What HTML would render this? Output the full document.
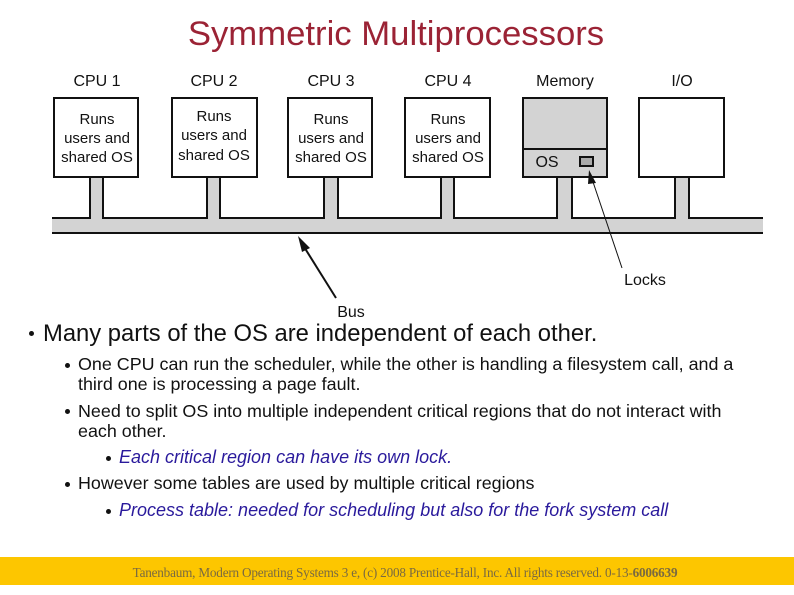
<!DOCTYPE html>
<html><head><style>
body{margin:0;width:794px;height:595px;background:#fff;position:relative;overflow:hidden;font-family:"Liberation Sans",sans-serif}
.t{position:absolute;white-space:nowrap}
.s{position:absolute;white-space:nowrap;font-size:17.9px;color:#111;left:78px}
.i{position:absolute;white-space:nowrap;font-size:18px;color:#2a1a9c;font-style:italic;left:119px}
.d{position:absolute;width:5px;height:5px;border-radius:50%;background:#111}
</style></head><body>
<div class="t" style="left:0;width:792px;text-align:center;top:15px;font-size:34.7px;color:#9b2335">Symmetric Multiprocessors</div>
<svg style="position:absolute;left:0;top:0" width="794" height="340" font-family="Liberation Sans, sans-serif">
<path d="M52 218 H90 V177 H103 V218 H207 V177 H220 V218 H324 V177 H338 V218 H441 V177 H454 V218 H557 V177 H572 V218 H675 V177 H689 V218 H763" fill="#d3d3d3" stroke="#111" stroke-width="2"/>
<rect x="52" y="219" width="711" height="13" fill="#d3d3d3"/>
<rect x="91" y="176" width="11" height="44" fill="#d3d3d3"/>
<rect x="208" y="176" width="11" height="44" fill="#d3d3d3"/>
<rect x="325" y="176" width="12" height="44" fill="#d3d3d3"/>
<rect x="442" y="176" width="11" height="44" fill="#d3d3d3"/>
<rect x="558" y="176" width="13" height="44" fill="#d3d3d3"/>
<rect x="676" y="176" width="12" height="44" fill="#d3d3d3"/>
<line x1="52" y1="233" x2="763" y2="233" stroke="#111" stroke-width="2"/>
<g stroke="#111" stroke-width="2" fill="#fff">
<rect x="54" y="98" width="84" height="79"/>
<rect x="172" y="98" width="85" height="79"/>
<rect x="288" y="98" width="84" height="79"/>
<rect x="405" y="98" width="85" height="79"/>
<rect x="523" y="98" width="84" height="79" fill="#d3d3d3"/>
<line x1="523" y1="149" x2="607" y2="149"/>
<rect x="580" y="157" width="13" height="9" fill="#aaa"/>
<rect x="639" y="98" width="85" height="79"/>
</g>
<g font-size="16" fill="#111" text-anchor="middle">
<text x="97" y="86">CPU 1</text><text x="214" y="86">CPU 2</text><text x="331" y="86">CPU 3</text><text x="448" y="86">CPU 4</text><text x="565" y="86">Memory</text><text x="682" y="86">I/O</text>
<g font-size="15">
<text x="97" y="124">Runs</text><text x="97" y="143">users and</text><text x="97" y="162">shared OS</text>
<text x="214" y="121">Runs</text><text x="214" y="140">users and</text><text x="214" y="160">shared OS</text>
<text x="331" y="124">Runs</text><text x="331" y="143">users and</text><text x="331" y="162">shared OS</text>
<text x="448" y="124">Runs</text><text x="448" y="143">users and</text><text x="448" y="162">shared OS</text>
</g>
<text x="547" y="167">OS</text>
<text x="645" y="285">Locks</text>
<text x="351" y="317">Bus</text>
</g>
<line x1="336" y1="298" x2="301" y2="242" stroke="#111" stroke-width="2"/>
<polygon points="298,236 310,248 302,252" fill="#111"/>
<line x1="622" y1="268" x2="591" y2="176" stroke="#111" stroke-width="1"/>
<polygon points="589,170 596,183 588,184" fill="#111"/>
</svg>
<div class="d" style="left:29px;top:331px"></div>
<div class="t" style="left:43px;top:320px;font-size:23.8px;color:#111">Many parts of the OS are independent of each other.</div>
<div class="d" style="left:65px;top:363px"></div>
<div class="s" style="top:354px">One CPU can run the scheduler, while the other is handling a filesystem call, and a</div>
<div class="s" style="top:374px">third one is processing a page fault.</div>
<div class="d" style="left:65px;top:409px"></div>
<div class="s" style="top:401px">Need to split OS into multiple independent critical regions that do not interact with</div>
<div class="s" style="top:421px">each other.</div>
<div class="d" style="left:106px;top:456px"></div>
<div class="i" style="top:447px">Each critical region can have its own lock.</div>
<div class="d" style="left:65px;top:482px"></div>
<div class="s" style="top:473px">However some tables are used by multiple critical regions</div>
<div class="d" style="left:106px;top:509px"></div>
<div class="i" style="top:500px">Process table: needed for scheduling but also for the fork system call</div>
<div style="position:absolute;left:0;top:557px;width:794px;height:28px;background:#fdc600"></div>
<div class="t" style="left:0;width:810px;text-align:center;top:565px;font-family:'Liberation Serif',serif;font-size:13.2px;color:#7a6a40;letter-spacing:-0.2px">Tanenbaum, Modern Operating Systems 3 e, (c) 2008 Prentice-Hall, Inc. All rights reserved. 0-13-<b>6006639</b></div>
</body></html>
